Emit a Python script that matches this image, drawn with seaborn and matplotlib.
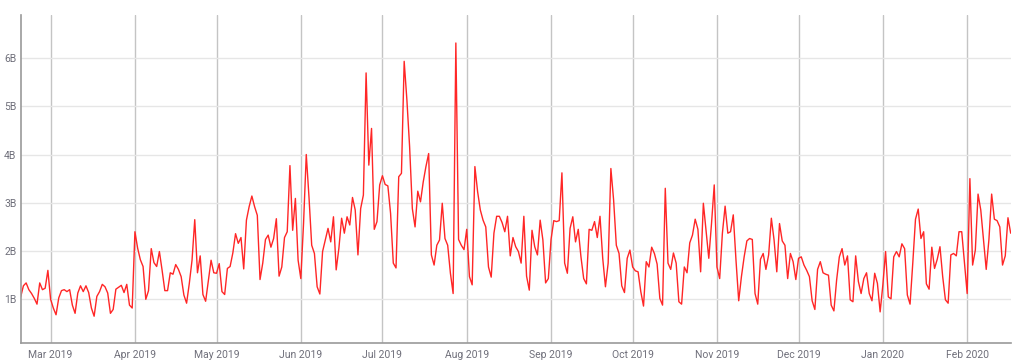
import numpy as np
import pandas as pd
import matplotlib
matplotlib.use("Agg")
import matplotlib.pyplot as plt
import matplotlib.dates as mdates
from matplotlib.ticker import FuncFormatter, FixedLocator
import seaborn as sns

# Daily values (billions), Feb 18 2019 -> Feb 17 2020
feb_2019 = [1.05, 1.28, 1.34, 1.2, 1.12, 1.02, 0.9, 1.34, 1.2, 1.23, 1.6]
mar_2019 = [1.0, 0.82, 0.68, 1.03, 1.18, 1.2, 1.16, 1.2, 0.88, 0.71, 1.13, 1.28, 1.16, 1.28,
            1.14, 0.82, 0.65, 1.06, 1.16, 1.31, 1.26, 1.13, 0.71, 0.79, 1.21, 1.25, 1.29, 1.14,
            1.31, 0.88, 0.82]
apr_2019 = [2.4, 2.06, 1.82, 1.68, 1.0, 1.18, 2.05, 1.76, 1.68, 1.99, 1.6, 1.18, 1.18, 1.55,
            1.52, 1.72, 1.62, 1.47, 1.09, 0.92, 1.33, 1.81, 2.65, 1.55, 1.9, 1.1, 0.96, 1.39,
            1.81, 1.55]
may_2019 = [1.54, 1.74, 1.16, 1.1, 1.64, 1.68, 1.96, 2.36, 2.16, 2.28, 1.63, 2.64, 2.92, 3.14,
            2.92, 2.74, 1.41, 1.75, 2.24, 2.33, 2.08, 2.26, 2.67, 1.48, 1.67, 2.28, 2.4, 3.77,
            2.43, 3.09, 1.81]
jun_2019 = [1.43, 2.57, 4.0, 3.12, 2.12, 1.95, 1.26, 1.11, 1.99, 2.23, 2.47, 2.19, 2.71, 1.61,
            2.06, 2.68, 2.37, 2.71, 2.54, 3.11, 2.85, 1.92, 2.88, 3.16, 5.69, 3.78, 4.54, 2.45,
            2.61, 3.37]
jul_2019 = [3.56, 3.38, 3.35, 2.78, 1.75, 1.65, 3.54, 3.61, 5.93, 5.13, 4.16, 2.88, 2.5, 3.24,
            3.02, 3.43, 3.75, 4.02, 1.92, 1.71, 2.12, 2.23, 2.99, 2.26, 2.12, 1.54, 1.12, 6.31,
            2.24, 2.12, 2.03]
aug_2019 = [2.45, 1.47, 1.3, 3.75, 3.23, 2.85, 2.64, 2.5, 1.67, 1.46, 2.37, 2.72, 2.72, 2.59,
            2.4, 2.72, 1.9, 2.28, 2.09, 1.99, 1.75, 2.72, 1.48, 1.19, 2.43, 2.09, 1.92, 2.64,
            2.23, 1.34, 1.43]
sep_2019 = [2.24, 2.63, 2.61, 2.63, 3.62, 1.75, 1.54, 2.47, 2.71, 2.19, 2.45, 1.88, 1.43, 1.32,
            2.45, 2.43, 2.61, 2.28, 2.72, 1.85, 1.26, 1.75, 3.71, 3.06, 2.12, 1.95, 1.28, 1.14,
            1.85, 2.02]
oct_2019 = [1.67, 1.59, 1.57, 1.16, 0.86, 1.78, 1.67, 2.08, 1.95, 1.73, 1.02, 0.88, 3.3, 1.75,
            1.62, 1.96, 1.75, 0.95, 0.9, 1.67, 1.55, 2.17, 2.33, 2.66, 2.45, 1.57, 2.99, 2.43,
            1.85, 2.57, 3.37]
nov_2019 = [1.67, 1.43, 2.37, 2.93, 2.37, 2.4, 2.75, 1.81, 0.97, 1.47, 1.88, 2.21, 2.26, 2.24,
            1.12, 0.9, 1.83, 1.95, 1.62, 1.92, 2.68, 2.23, 1.57, 2.57, 2.21, 2.12, 1.43, 1.95,
            1.78, 1.41]
dec_2019 = [1.85, 1.88, 1.71, 1.6, 1.47, 0.97, 0.79, 1.62, 1.78, 1.55, 1.52, 1.5, 0.88, 0.76,
            1.4, 1.88, 2.05, 1.71, 1.9, 0.99, 0.95, 1.9, 1.37, 1.12, 1.43, 1.55, 1.12, 0.97,
            1.54, 1.33, 0.74]
jan_2020 = [1.3, 1.99, 1.05, 1.01, 1.88, 1.99, 1.88, 2.15, 2.05, 1.09, 0.9, 1.75, 2.66, 2.87,
            2.26, 2.4, 1.32, 1.21, 2.08, 1.64, 1.83, 2.09, 1.47, 0.99, 0.92, 1.92, 1.95, 1.9,
            2.4, 2.4, 1.75]
feb_2020 = [1.12, 3.5, 1.71, 2.02, 3.18, 2.85, 2.23, 1.62, 2.24, 3.18, 2.66, 2.63, 2.5, 1.71,
            1.9, 2.69, 2.37]

start_date = "2019-02-18"
y_ticks = [1, 2, 3, 4, 5, 6]

values = (feb_2019 + mar_2019 + apr_2019 + may_2019 + jun_2019 + jul_2019 + aug_2019 +
          sep_2019 + oct_2019 + nov_2019 + dec_2019 + jan_2020 + feb_2020)
dates = pd.date_range(start_date, periods=len(values), freq="D")
df = pd.DataFrame({"date": dates, "value": values})

sns.set_theme(style="white")
plt.rcParams["font.family"] = ["Roboto", "DejaVu Sans"]

fig = plt.figure(figsize=(10.24, 3.64), dpi=100)
ax = fig.add_axes([0.0202, 0.057, 0.9668, 0.9018])

sns.lineplot(data=df, x="date", y="value", ax=ax, color="#ff2626", linewidth=1.0)

ax.set_xlim(dates[0], dates[-1])
ax.set_ylim(0.09, 6.89)

ax.xaxis.set_major_locator(mdates.MonthLocator())
ax.xaxis.set_major_formatter(mdates.DateFormatter("%b %Y"))
ax.yaxis.set_major_locator(FixedLocator(y_ticks))
ax.yaxis.set_major_formatter(FuncFormatter(lambda v, p: f"{int(round(v))}B"))

ax.grid(False)
ax.grid(axis="x", color="#c4c4c4", linewidth=1.0)
ax.grid(axis="y", color="#e6e6e6", linewidth=1.0)
ax.set_axisbelow(True)

ax.set_xlabel("")
ax.set_ylabel("")
ax.tick_params(axis="both", length=0, labelsize=7.5, colors="#6f6f7a")
ax.tick_params(axis="x", pad=5)
ax.tick_params(axis="y", pad=3)

for s in ["top", "right"]:
    ax.spines[s].set_visible(False)
ax.spines["left"].set_color("#9a9a9a")
ax.spines["left"].set_linewidth(1.2)
ax.spines["bottom"].set_color("#9a9a9a")
ax.spines["bottom"].set_linewidth(1.2)

fig.savefig("out.png", dpi=100)
